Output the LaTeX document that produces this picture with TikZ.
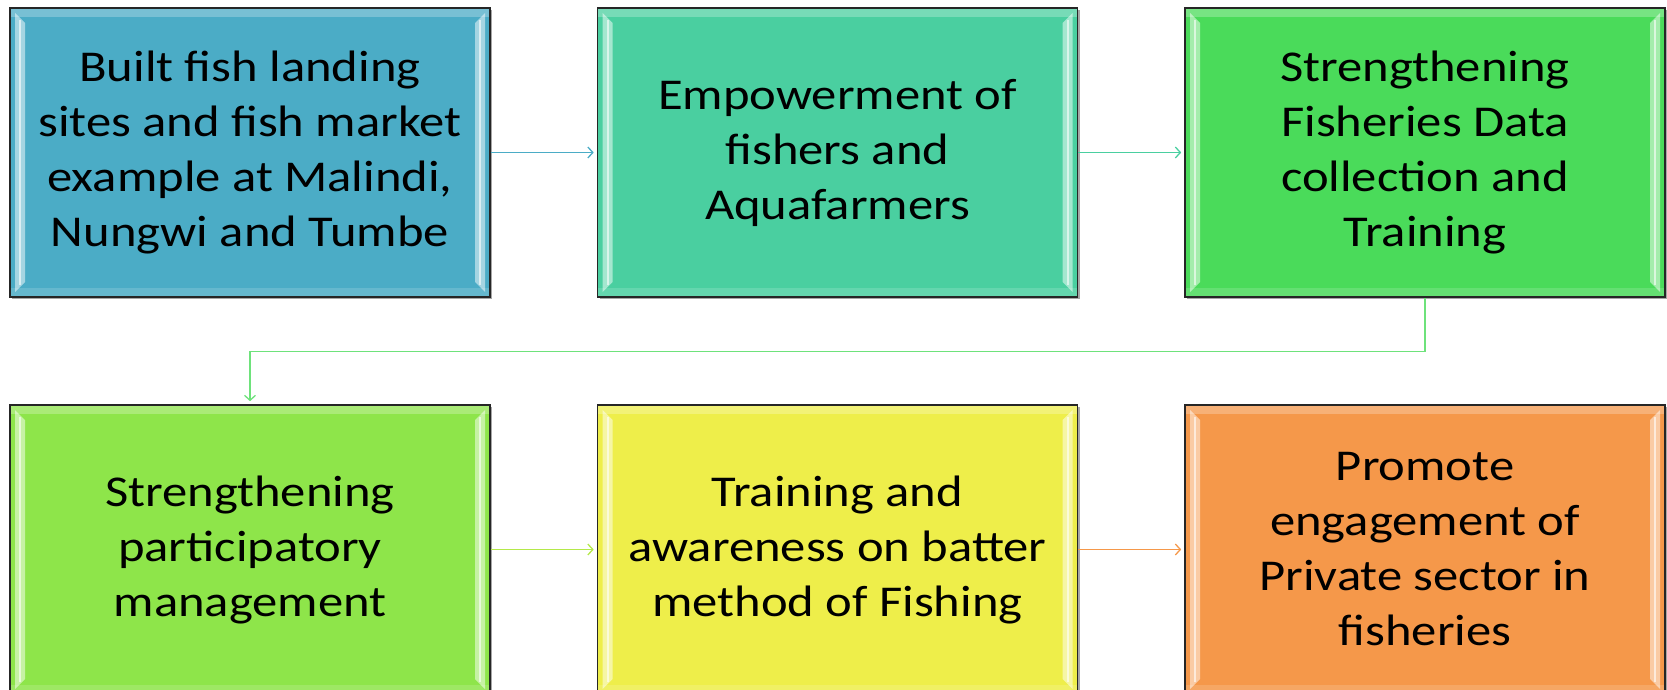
\documentclass[tikz,border=0pt]{standalone}
\usepackage{fontspec}
\setmainfont{Carlito}[FakeStretch=1.15]
\usetikzlibrary{arrows.meta,shadows}

\definecolor{sblue}{RGB}{75,172,198}
\definecolor{steal}{RGB}{74,207,160}
\definecolor{sgreen}{RGB}{74,219,90}
\definecolor{slime}{RGB}{142,229,74}
\definecolor{syellow}{RGB}{238,238,74}
\definecolor{sorange}{RGB}{245,152,74}

\begin{document}
\begin{tikzpicture}
[x=1pt,y=-1pt,
stage/.style={draw=black!85, line width=1.6pt, minimum width=480pt, minimum height=289pt,
  inner sep=0pt, align=center, font=\fontsize{44}{55}\selectfont,
  drop shadow={shadow xshift=2pt,shadow yshift=-2pt,opacity=0.35,fill=black},
  path picture={
    \fill[white,opacity=0.25] (path picture bounding box.north west) rectangle ([yshift=-9pt]path picture bounding box.north east);
    \fill[white,opacity=0.15] ([yshift=9pt]path picture bounding box.south west) rectangle (path picture bounding box.south east);
    \fill[white,opacity=0.5] ([xshift=5pt,yshift=-5pt]path picture bounding box.north west)
      -- ([xshift=15pt,yshift=-15pt]path picture bounding box.north west)
      -- ([xshift=15pt,yshift=15pt]path picture bounding box.south west)
      -- ([xshift=5pt,yshift=5pt]path picture bounding box.south west) -- cycle;
    \fill[white,opacity=0.5] ([xshift=-5pt,yshift=-5pt]path picture bounding box.north east)
      -- ([xshift=-15pt,yshift=-15pt]path picture bounding box.north east)
      -- ([xshift=-15pt,yshift=15pt]path picture bounding box.south east)
      -- ([xshift=-5pt,yshift=5pt]path picture bounding box.south east) -- cycle;
    \draw[white,opacity=0.6,line width=2pt] ([xshift=10pt,yshift=-12pt]path picture bounding box.north west) -- ([xshift=10pt,yshift=12pt]path picture bounding box.south west);
    \draw[white,opacity=0.6,line width=2pt] ([xshift=-10pt,yshift=-12pt]path picture bounding box.north east) -- ([xshift=-10pt,yshift=12pt]path picture bounding box.south east);
  }},
link/.style={draw, line width=1.3pt, shorten >=3pt, -{Straight Barb[length=5pt,width=11pt]}}]
\useasboundingbox (0,0) rectangle (1667,690);

\node[stage, fill=sblue] (s1) at (250,152.5) {Built fish landing\\sites and fish market\\example at Malindi,\\Nungwi and Tumbe};
\node[stage, fill=steal] (s2) at (837.5,152.5) {Empowerment of\\fishers and\\Aquafarmers};
\node[stage, fill=sgreen] (s3) at (1425,152.5) {Strengthening\\Fisheries Data\\collection and\\Training};

\node[stage, fill=slime] (s4) at (250,549.5) {Strengthening\\participatory\\management};
\node[stage, fill=syellow] (s5) at (837.5,549.5) {Training and\\awareness on batter\\method of Fishing};
\node[stage, fill=sorange] (s6) at (1425,549.5) {Promote\\engagement of\\Private sector in\\fisheries};

% first row
\draw[link, sblue] (s1) -- (s2);
\draw[link, steal] (s2) -- (s3);

% down to second row
\draw[link, sgreen!80!white] (s3.south) -- ++(0,54) -| (s4.north);

% second row
\draw[link, slime!60!syellow] (s4) -- (s5);
\draw[link, sorange] (s5) -- (s6);
\end{tikzpicture}
\end{document}
